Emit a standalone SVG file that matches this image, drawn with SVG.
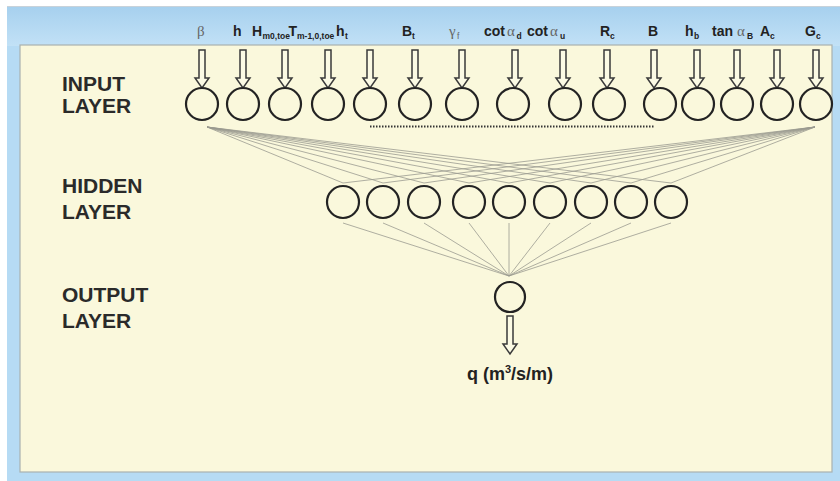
<svg xmlns="http://www.w3.org/2000/svg" width="840" height="481" viewBox="0 0 840 481">
<defs>
<linearGradient id="band" x1="0" y1="0" x2="0" y2="1">
<stop offset="0" stop-color="#a6d0ee"/>
<stop offset="1" stop-color="#c2e1f6"/>
</linearGradient>
<g id="arrow"><path d="M-3,0 H3 V28 H7 L0,38 L-7,28 H-3 Z"/></g>
</defs>
<style>
.lbl{font-family:"Liberation Sans",Arial,sans-serif;font-weight:bold;font-size:14px;fill:#222}
.sub{font-size:8.5px}
.gr{font-family:"Liberation Serif","Times New Roman",serif;font-weight:normal;font-size:15px;fill:#666}
.layer{font-family:"Liberation Sans",Arial,sans-serif;font-weight:bold;font-size:21px;fill:#2a2a2a}
.node{fill:none;stroke:#232323;stroke-width:2.2}
.arr{fill:#fbfae4;stroke:#3a3a3a;stroke-width:1.5;stroke-linejoin:miter}
.conn{stroke:#9a9a90;stroke-width:0.8;fill:none}
</style>
<rect x="0" y="0" width="840" height="481" fill="#ffffff"/>
<rect x="7" y="6" width="833" height="475" fill="#b6dbf4"/>
<rect x="7" y="6" width="833" height="40" fill="url(#band)"/>
<line x1="7" y1="6.5" x2="840" y2="6.5" stroke="#c8d2da" stroke-width="1"/>
<rect x="20" y="45" width="812" height="427" fill="#faf8dc" stroke="#a9b1b0" stroke-width="1.2"/>

<g id="labels">
<text class="lbl"><tspan class="gr" x="197" y="36">β</tspan></text>
<text class="lbl" x="233" y="36">h</text>
<text class="lbl"><tspan x="252" y="36">H</tspan><tspan class="sub" x="262.5" y="39">m0,toe</tspan></text>
<text class="lbl"><tspan x="288.5" y="36">T</tspan><tspan class="sub" x="297" y="39">m-1,0,toe</tspan></text>
<text class="lbl"><tspan x="336" y="36">h</tspan><tspan class="sub" x="345" y="39">t</tspan></text>
<text class="lbl"><tspan x="402" y="36">B</tspan><tspan class="sub" x="412" y="39">t</tspan></text>
<text class="lbl"><tspan class="gr" x="449" y="36">γ</tspan><tspan class="sub" x="457" y="39" style="font-weight:normal;fill:#666">f</tspan></text>
<text class="lbl"><tspan x="484" y="36">cot</tspan><tspan class="gr" x="507" y="36">α</tspan><tspan class="sub" x="516.5" y="39">d</tspan></text>
<text class="lbl"><tspan x="527" y="36">cot</tspan><tspan class="gr" x="550" y="36">α</tspan><tspan class="sub" x="560" y="39">u</tspan></text>
<text class="lbl"><tspan x="600" y="36">R</tspan><tspan class="sub" x="610" y="39">c</tspan></text>
<text class="lbl" x="648" y="36">B</text>
<text class="lbl"><tspan x="685" y="36">h</tspan><tspan class="sub" x="694" y="39">b</tspan></text>
<text class="lbl"><tspan x="712" y="36">tan</tspan><tspan class="gr" x="737" y="36">α</tspan><tspan class="sub" x="747" y="39">B</tspan></text>
<text class="lbl"><tspan x="760" y="36">A</tspan><tspan class="sub" x="770" y="39">c</tspan></text>
<text class="lbl"><tspan x="805" y="36">G</tspan><tspan class="sub" x="816" y="39">c</tspan></text>
</g>

<g id="layer-labels">
<text class="layer" x="62" y="91">INPUT</text>
<text class="layer" x="62" y="113">LAYER</text>
<text class="layer" x="62" y="193">HIDDEN</text>
<text class="layer" x="62" y="219">LAYER</text>
<text class="layer" x="62" y="302">OUTPUT</text>
<text class="layer" x="62" y="328">LAYER</text>
</g>

<g id="connectors">
<g class="conn">
<path d="M207,127 L343,183 M207,127 L383,183 M207,127 L424,183 M207,127 L469,183 M207,127 L509,183 M207,127 L550,183 M207,127 L591,183 M207,127 L631,183 M207,127 L671,183"/>
<path d="M815,127 L343,183 M815,127 L383,183 M815,127 L424,183 M815,127 L469,183 M815,127 L509,183 M815,127 L550,183 M815,127 L591,183 M815,127 L631,183 M815,127 L671,183"/>
<path d="M343,223 L509,276 M383,223 L509,276 M424,223 L509,276 M469,223 L509,276 M509,223 L509,276 M550,223 L509,276 M591,223 L509,276 M631,223 L509,276 M671,223 L509,276"/>
</g>
<line x1="370" y1="126.5" x2="654" y2="126.5" stroke="#333" stroke-width="2" stroke-dasharray="1.5,1.5"/>
<g class="arr">
<use href="#arrow" x="202" y="50"/>
<use href="#arrow" x="243" y="50"/>
<use href="#arrow" x="285" y="50"/>
<use href="#arrow" x="328" y="50"/>
<use href="#arrow" x="370" y="50"/>
<use href="#arrow" x="415" y="50"/>
<use href="#arrow" x="462" y="50"/>
<use href="#arrow" x="515" y="50"/>
<use href="#arrow" x="563" y="50"/>
<use href="#arrow" x="607" y="50"/>
<use href="#arrow" x="654" y="50"/>
<use href="#arrow" x="697" y="50"/>
<use href="#arrow" x="737" y="50"/>
<use href="#arrow" x="777" y="50"/>
<use href="#arrow" x="816" y="50"/>
<use href="#arrow" x="510" y="316"/>
</g>
</g>

<g id="input-layer">
<circle class="node" cx="202" cy="104" r="16"/>
<circle class="node" cx="243" cy="104" r="16"/>
<circle class="node" cx="285" cy="104" r="16"/>
<circle class="node" cx="328" cy="104" r="16"/>
<circle class="node" cx="370" cy="104" r="16"/>
<circle class="node" cx="415" cy="104" r="16"/>
<circle class="node" cx="462" cy="104" r="16"/>
<circle class="node" cx="513" cy="104" r="16"/>
<circle class="node" cx="565" cy="104" r="16"/>
<circle class="node" cx="609" cy="104" r="16"/>
<circle class="node" cx="660" cy="104" r="16"/>
<circle class="node" cx="698" cy="104" r="16"/>
<circle class="node" cx="737" cy="104" r="16"/>
<circle class="node" cx="777" cy="104" r="16"/>
<circle class="node" cx="816" cy="104" r="16"/>
</g>

<g id="hidden-layer">
<circle class="node" cx="343" cy="202" r="16"/>
<circle class="node" cx="383" cy="202" r="16"/>
<circle class="node" cx="424" cy="202" r="16"/>
<circle class="node" cx="469" cy="202" r="16"/>
<circle class="node" cx="509" cy="202" r="16"/>
<circle class="node" cx="550" cy="202" r="16"/>
<circle class="node" cx="591" cy="202" r="16"/>
<circle class="node" cx="631" cy="202" r="16"/>
<circle class="node" cx="671" cy="202" r="16"/>
</g>

<g id="output-layer">
<circle class="node" cx="510" cy="297" r="15"/>
<text class="lbl" x="510" y="380" text-anchor="middle" style="font-size:18px">q (m<tspan style="font-size:11px" dy="-7">3</tspan><tspan dy="7">/s/m)</tspan></text>
</g>
</svg>
